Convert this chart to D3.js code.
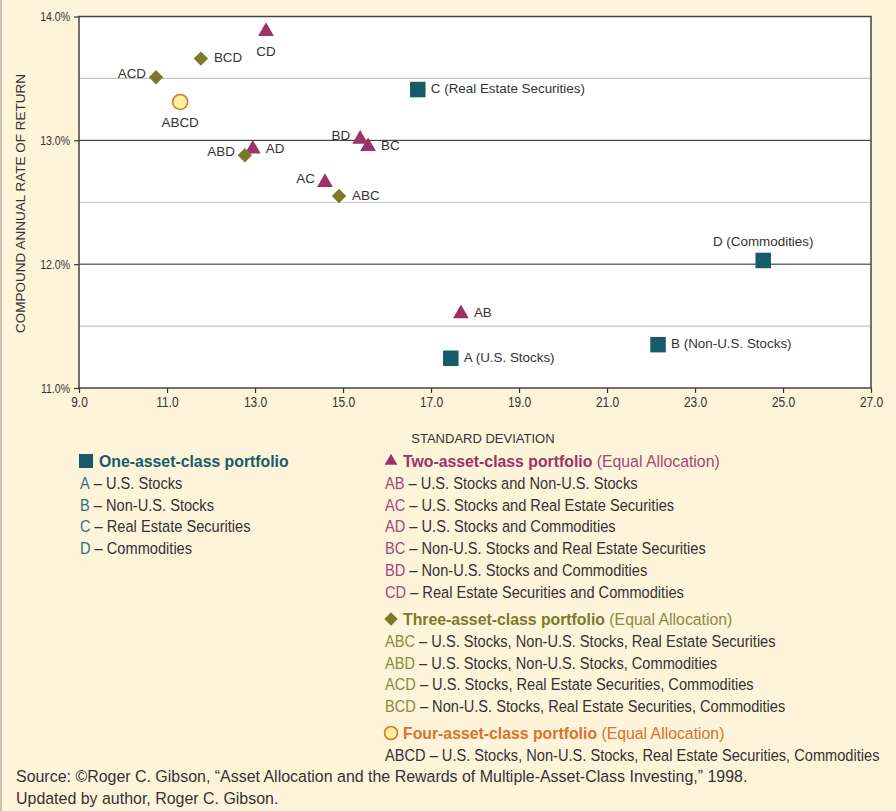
<!DOCTYPE html>
<html>
<head>
<meta charset="utf-8">
<script src="https://cdn.jsdelivr.net/npm/d3@7"></script>
<style>
  body { margin: 0; background: #fef4da; }
  svg { display: block; }
</style>
</head>
<body>
<div id="chart-container"></div>
<script>
// data
const codes = ['A', 'B', 'C', 'D', 'AB', 'AC', 'AD', 'BC', 'BD', 'CD', 'ABC', 'ABD', 'ACD', 'BCD', 'ABCD']
const stdDev = [17.45, 22.16, 16.70, 24.55, 17.68, 14.59, 12.95, 15.57, 15.39, 13.25, 14.91, 12.77, 10.75, 11.77, 11.30]
const annualReturn = [11.24, 11.35, 13.41, 12.03, 11.60, 12.66, 12.93, 12.95, 13.01, 13.88, 12.55, 12.88, 13.51, 13.66, 13.31]
const pointLabels = ['A (U.S. Stocks)', 'B (Non-U.S. Stocks)', 'C (Real Estate Securities)', 'D (Commodities)',
  'AB', 'AC', 'AD', 'BC', 'BD', 'CD', 'ABC', 'ABD', 'ACD', 'BCD', 'ABCD']
const xTicks = [9, 11, 13, 15, 17, 19, 21, 23, 25, 27]
const yTicks = [11, 12, 13, 14]
const yHalfTicks = [11.5, 12.5, 13.5]

const groupTitles = ['One-asset-class portfolio', 'Two-asset-class portfolio', 'Three-asset-class portfolio', 'Four-asset-class portfolio']
const groupNote = '(Equal Allocation)'
const oneAsset = [['A', 'U.S. Stocks'], ['B', 'Non-U.S. Stocks'], ['C', 'Real Estate Securities'], ['D', 'Commodities']]
const twoAsset = [
  ['AB', 'U.S. Stocks and Non-U.S. Stocks'],
  ['AC', 'U.S. Stocks and Real Estate Securities'],
  ['AD', 'U.S. Stocks and Commodities'],
  ['BC', 'Non-U.S. Stocks and Real Estate Securities'],
  ['BD', 'Non-U.S. Stocks and Commodities'],
  ['CD', 'Real Estate Securities and Commodities']
]
const threeAsset = [
  ['ABC', 'U.S. Stocks, Non-U.S. Stocks, Real Estate Securities'],
  ['ABD', 'U.S. Stocks, Non-U.S. Stocks, Commodities'],
  ['ACD', 'U.S. Stocks, Real Estate Securities, Commodities'],
  ['BCD', 'Non-U.S. Stocks, Real Estate Securities, Commodities']
]
const fourAsset = [['ABCD', 'U.S. Stocks, Non-U.S. Stocks, Real Estate Securities, Commodities']]
const sourceLines = [
  'Source: \u00A9Roger C. Gibson, \u201CAsset Allocation and the Rewards of Multiple-Asset-Class Investing,\u201D 1998.',
  'Updated by author, Roger C. Gibson.'
]

// where each point label sits relative to its marker
const labelSide = {A: 'right', B: 'right', C: 'right', D: 'above', AB: 'right', AC: 'left', AD: 'right',
  BC: 'right', BD: 'left', CD: 'below', ABC: 'right', ABD: 'left', ACD: 'left', BCD: 'right', ABCD: 'below'}

// constants
const width = 896
const height = 811
const margin = {left: 79, top: 16.5, right: 25, bottom: 423}
const plotWidth = width - margin.left - margin.right
const plotHeight = height - margin.top - margin.bottom
const groupColors = ['#175b6a', '#9c3266', '#7b7a2c', '#d9722b']
const legendColors = ['#2a7384', '#a5467a', '#8c8a3a', '#d9722b']
const ink = '#333'
const sans = '"Liberation Sans", Arial, sans-serif'
// the original uses a condensed face; squeeze the text horizontally instead
const rowSqueeze = 0.86
const headSqueeze = 0.93
const sourceSqueeze = 0.967
const xTickSqueeze = 0.85
const yTickSqueeze = 0.78

const svg = d3.select('#chart-container')
  .append('svg')
  .attr('width', width)
  .attr('height', height)
  .style('font-family', sans)

svg.append('rect').attr('width', width).attr('height', height).attr('fill', '#fef4da')
svg.append('line').attr('x1', 1).attr('x2', 1).attr('y1', 0).attr('y2', height)
  .attr('stroke', '#b9b4a8').attr('stroke-width', 1.5)

const container = svg.append('g')
  .attr('transform', `translate(${margin.left}, ${margin.top})`)

// scales
const xScale = d3.scaleLinear().domain([9, 27]).range([0, plotWidth])
const yScale = d3.scaleLinear().domain([11, 14]).range([plotHeight, 0])

// plot background + grid
container.append('rect')
  .attr('width', plotWidth).attr('height', plotHeight)
  .attr('fill', '#fff')

container.selectAll('.half-grid')
  .data(yHalfTicks)
  .join('line')
  .attr('class', 'half-grid')
  .attr('x1', 0).attr('x2', plotWidth)
  .attr('y1', d => yScale(d)).attr('y2', d => yScale(d))
  .attr('stroke', '#c4c4c4').attr('stroke-width', 1.2)

container.selectAll('.main-grid')
  .data(yTicks.filter(d => d > 11 && d < 14))
  .join('line')
  .attr('class', 'main-grid')
  .attr('x1', 0).attr('x2', plotWidth)
  .attr('y1', d => yScale(d)).attr('y2', d => yScale(d))
  .attr('stroke', '#222').attr('stroke-width', 1)

container.append('rect')
  .attr('width', plotWidth).attr('height', plotHeight)
  .attr('fill', 'none')
  .attr('stroke', '#444').attr('stroke-width', 1.5)

// axes
const yAxis = d3.axisLeft(yScale)
  .tickValues(yTicks)
  .tickFormat(d => d.toFixed(1) + '%')
  .tickSize(5)
  .tickSizeOuter(0)
const yG = container.append('g').call(yAxis)

const xAxis = d3.axisBottom(xScale)
  .tickValues(xTicks)
  .tickFormat(d => d.toFixed(1))
  .tickSize(5)
  .tickSizeOuter(0)
  .tickPadding(4)
const xG = container.append('g')
  .attr('transform', `translate(0, ${plotHeight})`)
  .call(xAxis)

for (const g of [xG, yG]) {
  g.select('.domain').remove()
  g.selectAll('line').attr('stroke', ink).attr('stroke-width', 1.2)
  g.selectAll('text')
    .attr('fill', ink)
    .style('font-family', sans)
}
xG.selectAll('text')
  .style('font-size', '14px')
  .attr('transform', `scale(${xTickSqueeze}, 1)`)
  .attr('x', 0)
yG.selectAll('text')
  .style('font-size', '13.5px')
  .attr('transform', `scale(${yTickSqueeze}, 1)`)
  .attr('x', -9 / yTickSqueeze)

// axis titles
svg.append('text')
  .attr('x', margin.left + xScale(18.18))
  .attr('y', 443)
  .attr('text-anchor', 'middle')
  .attr('fill', ink)
  .style('font-size', '13px')
  .text('STANDARD DEVIATION')

svg.append('text')
  .attr('transform', `translate(25, ${margin.top + yScale(12.49)}) rotate(-90)`)
  .attr('text-anchor', 'middle')
  .attr('fill', ink)
  .style('font-size', '13.5px')
  .text('COMPOUND ANNUAL RATE OF RETURN')

// markers
const triangle = d3.symbol().type(d3.symbolTriangle)
const diamond = d3.symbol().type(d3.symbolDiamond2)

function drawMarker (sel, group, size) {
  const c = groupColors[group]
  if (group === 0) {
    sel.append('rect')
      .attr('x', -size / 2).attr('y', -size / 2)
      .attr('width', size).attr('height', size)
      .attr('fill', c)
  } else if (group === 1) {
    sel.append('path')
      .attr('d', triangle.size(size * size * 0.45)())
      .attr('fill', c)
  } else if (group === 2) {
    sel.append('path')
      .attr('d', diamond.size(size * size * 0.55)())
      .attr('fill', c)
  } else {
    sel.append('circle')
      .attr('r', size / 2)
      .attr('fill', '#fcf19c')
      .attr('stroke', c).attr('stroke-width', 1.5)
  }
}

const points = codes.map((code, i) => ({
  code,
  group: code.length - 1,
  sd: stdDev[i],
  ret: annualReturn[i],
  label: pointLabels[i]
}))

const pointG = container.selectAll('.pt')
  .data(points)
  .join('g')
  .attr('class', 'pt')
  .attr('transform', d => `translate(${xScale(d.sd)}, ${yScale(d.ret)})`)

pointG.each(function (d) {
  drawMarker(d3.select(this), d.group, d.group === 3 ? 15 : 15.5)
})

pointG.append('text')
  .attr('fill', ink)
  .style('font-size', '13.4px')
  .attr('dy', '0.35em')
  .attr('text-anchor', d => ({left: 'end', right: 'start'}[labelSide[d.code]] || 'middle'))
  .attr('x', d => ({left: -10, right: 13}[labelSide[d.code]] || 0))
  .attr('y', d => ({above: -19, below: 20, left: -4, right: -1}[labelSide[d.code]]))
  .text(d => d.label)

// legend
const legendGroups = [
  {rows: oneAsset, x: 79, y: 461},
  {rows: twoAsset, x: 384, y: 461},
  {rows: threeAsset, x: 384, y: 619},
  {rows: fourAsset, x: 384, y: 733}
]
const rowStep = 21.8
const legendIconSize = [14, 12.5, 14.5, 13]

legendGroups.forEach((lg, gi) => {
  const g = svg.append('g').attr('transform', `translate(${lg.x}, ${lg.y})`)
  const icon = g.append('g').attr('transform', 'translate(7, 0)')
  drawMarker(icon, gi, legendIconSize[gi])

  const head = g.append('text')
    .attr('transform', `translate(${gi === 0 ? 20 : 19}, 0) scale(${headSqueeze}, 1)`)
    .attr('dy', '0.35em')
    .style('font-size', '17px')
  head.append('tspan')
    .attr('fill', groupColors[gi])
    .style('font-weight', 'bold')
    .text(groupTitles[gi])
  if (gi > 0) {
    head.append('tspan')
      .attr('fill', legendColors[gi])
      .text(' ' + groupNote)
  }

  lg.rows.forEach((r, ri) => {
    const t = g.append('text')
      .attr('transform', `translate(1, ${(ri + 1) * rowStep}) scale(${rowSqueeze}, 1)`)
      .attr('dy', '0.35em')
      .style('font-size', '17px')
    t.append('tspan').attr('fill', gi === 3 ? ink : legendColors[gi]).text(r[0])
    t.append('tspan').attr('fill', ink).text(' \u2013 ' + r[1])
  })
})

// source note
svg.selectAll('.source')
  .data(sourceLines)
  .join('text')
  .attr('class', 'source')
  .attr('transform', (d, i) => `translate(16, ${776 + i * 22}) scale(${sourceSqueeze}, 1)`)
  .attr('dy', '0.35em')
  .attr('fill', ink)
  .style('font-size', '16.5px')
  .text(d => d)
</script>
</body>
</html>
